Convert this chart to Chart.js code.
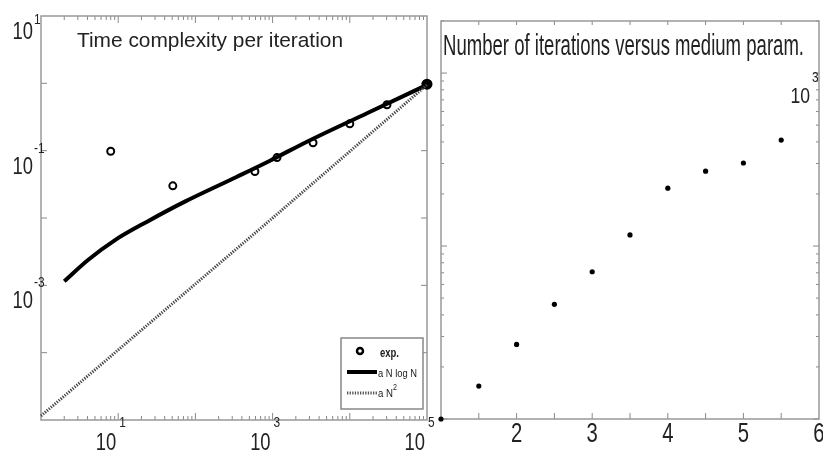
<!DOCTYPE html>
<html>
<head>
<meta charset="utf-8">
<title>Time complexity / iterations</title>
<script src="https://cdn.jsdelivr.net/npm/chart.js@4.4.1/dist/chart.umd.min.js"></script>
<style>
  html, body { margin: 0; padding: 0; background: #fff; }
  #wrap { position: relative; width: 823px; height: 452px; overflow: hidden; }
  canvas { position: absolute; top: 0; }
  #leftChart { left: 0; }
  #rightChart { left: 430px; }
</style>
</head>
<body>
<div id="wrap">
  <canvas id="leftChart" width="440" height="452"></canvas>
  <canvas id="rightChart" width="393" height="452"></canvas>
</div>
<script>
// left panel: time per iteration vs N (log-log)
const expN = [8, 51, 590, 1140, 3340, 10000, 30300, 100000];
const expTime = [0.098, 0.030, 0.049, 0.079, 0.131, 0.25, 0.48, 0.97];
const fitN = [2, 4.1, 9.1, 24, 73, 346, 925, 3050, 16700, 100000];
const fitTime = [0.00115, 0.0024, 0.0047, 0.0089, 0.0175, 0.041, 0.071, 0.143, 0.36, 0.95];
const quadN = [1, 1000, 100000];
const quadTime = [0.0000115, 0.01, 0.95];
const leftXTickExp = [1, 3, 5];
const leftYTickExp = [1, -1, -3];

// right panel: iterations vs medium parameter
const mediumParam = [1, 1.5, 2, 2.5, 3, 3.5, 4, 4.5, 5, 5.5];
const iterations = [10, 15.5, 27, 46, 71, 116, 216, 271, 302, 410];
const rightXTicks = [2, 3, 4, 5, 6];
const rightYTickExp = [3];

const FONT = "'Liberation Sans', Arial, sans-serif";
const FRAME = '#999';
const TICK = '#888';
const INK = '#222';

function pts(xs, ys) {
  return xs.map((x, i) => ({x: x, y: ys[i]}));
}

// draws text squeezed horizontally (the reference is narrow)
function squash(ctx, text, x, y, size, sx, align, weight) {
  ctx.save();
  ctx.font = (weight || '') + ' ' + size + 'px ' + FONT;
  ctx.fillStyle = INK;
  ctx.textAlign = 'left';
  ctx.textBaseline = 'alphabetic';
  const w = ctx.measureText(text).width * sx;
  let left = x;
  if (align === 'right') left = x - w;
  if (align === 'center') left = x - w / 2;
  ctx.translate(left, y);
  ctx.scale(sx, 1);
  ctx.fillText(text, 0, 0);
  ctx.restore();
}

function fitText(ctx, text, x, y, size, width, weight) {
  ctx.save();
  ctx.font = (weight || '') + ' ' + size + 'px ' + FONT;
  const sx = width / ctx.measureText(text).width;
  ctx.restore();
  squash(ctx, text, x, y, size, sx, 'left', weight);
}

function line(ctx, x1, y1, x2, y2) {
  ctx.beginPath();
  ctx.moveTo(x1, y1);
  ctx.lineTo(x2, y2);
  ctx.stroke();
}

const leftAxes = {
  id: 'leftAxes',
  beforeDatasetsDraw(chart) {
    const ctx = chart.ctx;
    const a = chart.chartArea;
    const xs = chart.scales.x, ys = chart.scales.y;
    ctx.save();
    ctx.strokeStyle = TICK;
    ctx.lineWidth = 1;
    for (let d = 0; d < 5; d++) {
      for (let m = 2; m <= 9; m++) {
        const px = xs.getPixelForValue(m * Math.pow(10, d));
        line(ctx, px, a.bottom, px, a.bottom - 4);
        line(ctx, px, a.top, px, a.top + 4);
      }
      if (d > 0) {
        const px = xs.getPixelForValue(Math.pow(10, d));
        line(ctx, px, a.bottom, px, a.bottom - 7);
        line(ctx, px, a.top, px, a.top + 7);
      }
    }
    for (let e = -4; e <= 0; e++) {
      const py = ys.getPixelForValue(Math.pow(10, e));
      line(ctx, a.left, py, a.left + 6, py);
      line(ctx, a.right, py, a.right - 6, py);
    }
    ctx.strokeStyle = FRAME;
    ctx.lineWidth = 1.5;
    ctx.strokeRect(a.left, a.top, a.right - a.left, a.bottom - a.top);
    ctx.restore();
  },
  afterDraw(chart) {
    const ctx = chart.ctx;
    const xs = chart.scales.x, ys = chart.scales.y;
    fitText(ctx, 'Time complexity per iteration', 77, 47, 21, 266);

    leftYTickExp.forEach(e => {
      const py = ys.getPixelForValue(Math.pow(10, e));
      squash(ctx, '10', 33, py + 23, 23, 0.8, 'right');
      squash(ctx, String(e), 34, Math.max(py + 2, 24), 14, 0.85, 'left');
    });
    leftXTickExp.forEach(e => {
      const px = xs.getPixelForValue(Math.pow(10, e));
      squash(ctx, '10', px - 2, 450, 23, 0.8, 'right');
      squash(ctx, String(e), px + 1, 427, 14, 0.85, 'left');
    });

    // legend box
    ctx.save();
    ctx.fillStyle = '#fff';
    ctx.fillRect(341, 338, 82, 71);
    ctx.strokeStyle = '#888';
    ctx.lineWidth = 1.5;
    ctx.strokeRect(341, 338, 82, 71);
    ctx.strokeStyle = '#000';
    ctx.lineWidth = 2.5;
    ctx.beginPath();
    ctx.arc(360, 351, 3, 0, Math.PI * 2);
    ctx.stroke();
    ctx.lineWidth = 4;
    line(ctx, 347, 372, 377, 372);
    ctx.strokeStyle = '#555';
    ctx.lineWidth = 3;
    ctx.setLineDash([1.3, 1.3]);
    line(ctx, 347, 393, 377, 393);
    ctx.restore();
    fitText(ctx, 'exp.', 380, 357, 12, 19, 'bold');
    fitText(ctx, 'a N log N', 378, 377, 11, 39);
    fitText(ctx, 'a N', 378, 397, 11, 15);
    squash(ctx, '2', 393, 390, 9, 0.8, 'left');
  }
};

const rightAxes = {
  id: 'rightAxes',
  beforeDatasetsDraw(chart) {
    const ctx = chart.ctx;
    const a = chart.chartArea;
    const xs = chart.scales.x, ys = chart.scales.y;
    ctx.save();
    ctx.strokeStyle = TICK;
    ctx.lineWidth = 1;
    for (let v = 1.5; v < 6; v += 0.5) {
      const px = xs.getPixelForValue(v);
      line(ctx, px, a.bottom, px, a.bottom - 6);
      line(ctx, px, a.top, px, a.top + 4);
    }
    for (let d = 1; d <= 3; d++) {
      for (let m = 1; m <= 9; m++) {
        const v = m * Math.pow(10, d);
        if (v > ys.max) break;
        const py = ys.getPixelForValue(v);
        const len = m === 1 ? 6 : 3;
        line(ctx, a.left, py, a.left + len, py);
        line(ctx, a.right, py, a.right - len, py);
      }
    }
    ctx.strokeStyle = FRAME;
    ctx.lineWidth = 1.5;
    ctx.strokeRect(a.left, a.top, a.right - a.left, a.bottom - a.top);
    ctx.restore();
  },
  afterDraw(chart) {
    const ctx = chart.ctx;
    const xs = chart.scales.x, ys = chart.scales.y;
    fitText(ctx, 'Number of iterations versus medium param.', 13, 55, 30, 361);
    rightXTicks.forEach(v => {
      squash(ctx, String(v), xs.getPixelForValue(v), 442, 27, 0.75, 'center');
    });
    rightYTickExp.forEach(e => {
      const py = ys.getPixelForValue(Math.pow(10, e));
      squash(ctx, '10', 380, py + 30, 22, 0.8, 'right');
      squash(ctx, String(e), 382, py + 9, 14, 0.85, 'left');
    });
  }
};

new Chart(document.getElementById('leftChart'), {
  type: 'scatter',
  data: {
    datasets: [
      {
        label: 'a N^2',
        data: pts(quadN, quadTime),
        showLine: true,
        borderColor: '#444',
        borderWidth: 3,
        borderDash: [1.3, 1.3],
        pointRadius: 0,
        clip: false
      },
      {
        label: 'a N log N',
        data: pts(fitN, fitTime),
        showLine: true,
        borderColor: '#000',
        borderWidth: 4,
        cubicInterpolationMode: 'monotone',
        pointRadius: 0,
        clip: false
      },
      {
        label: 'exp.',
        data: pts(expN, expTime),
        pointRadius: expN.map((n, i) => i === expN.length - 1 ? 4.5 : 3.5),
        pointBorderWidth: 2,
        pointBorderColor: '#000',
        pointBackgroundColor: expN.map((n, i) => i === expN.length - 1 ? '#000' : '#fff'),
        clip: false
      }
    ]
  },
  options: {
    responsive: false,
    animation: false,
    devicePixelRatio: 1,
    layout: { padding: { left: 41, top: 16, right: 13, bottom: 32 } },
    plugins: { legend: { display: false }, title: { display: false }, tooltip: { enabled: false } },
    scales: {
      x: { type: 'logarithmic', min: 1, max: 100000, display: false },
      y: { type: 'logarithmic', min: 0.00001, max: 10, display: false }
    }
  },
  plugins: [leftAxes]
});

new Chart(document.getElementById('rightChart'), {
  type: 'scatter',
  data: {
    datasets: [{
      label: 'iterations',
      data: pts(mediumParam, iterations),
      pointRadius: 2.6,
      pointBorderWidth: 0,
      pointBackgroundColor: '#000',
      clip: false
    }]
  },
  options: {
    responsive: false,
    animation: false,
    devicePixelRatio: 1,
    layout: { padding: { left: 11, top: 21, right: 1, bottom: 33 } },
    plugins: { legend: { display: false }, title: { display: false }, tooltip: { enabled: false } },
    scales: {
      x: { type: 'linear', min: 1, max: 6, display: false },
      y: { type: 'logarithmic', min: 10, max: 2000, display: false }
    }
  },
  plugins: [rightAxes]
});
</script>
</body>
</html>
